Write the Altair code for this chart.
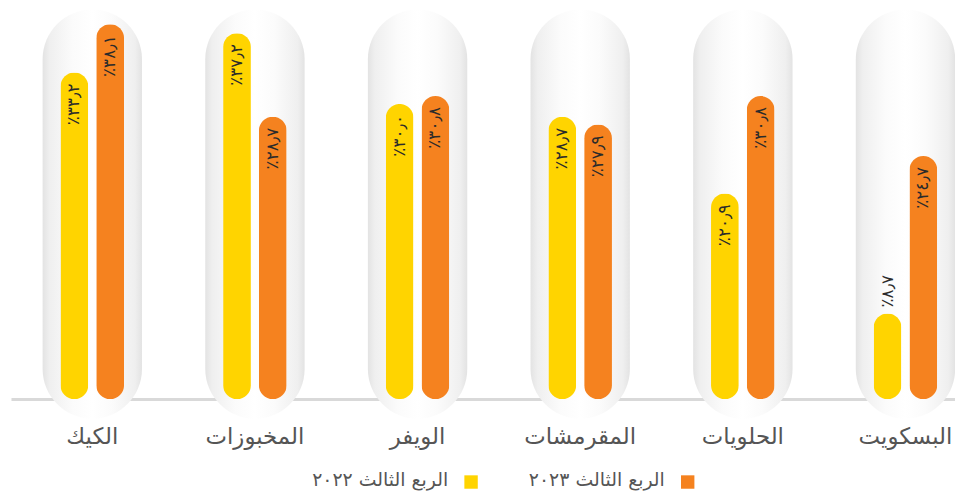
import altair as alt
import pandas as pd

# ---- data ----
categories = ["الكيك", "المخبوزات", "الويفر", "المقرمشات", "الحلويات", "البسكويت"]
series = ["الربع الثالث ٢٠٢٢", "الربع الثالث ٢٠٢٣"]
q3_2022 = [33.2, 37.2, 30.0, 28.7, 20.9, 8.7]
q3_2023 = [38.1, 28.7, 30.8, 27.9, 30.8, 24.7]
colors = ["#FFD400", "#F5821F"]

# capsule (background pill) extent, in value units
cap_top = 39.6
cap_bottom = -2.0
y_max = 39.6

AR = str.maketrans("0123456789.", "٠١٢٣٤٥٦٧٨٩٫")


def ar_label(v):
    return "٪" + f"{v:.1f}".translate(AR)


rows = []
for i, c in enumerate(categories):
    for s, vals in zip(series, [q3_2022, q3_2023]):
        rows.append({"cat": c, "series": s, "value": vals[i], "label": ar_label(vals[i])})
df = pd.DataFrame(rows)
caps = pd.DataFrame({"cat": categories, "top": [cap_top] * len(categories),
                     "bottom": [cap_bottom] * len(categories)})

FONT = "DejaVu Sans"

x_enc = alt.X(
    "cat:N",
    sort=categories,
    scale=alt.Scale(range=[3, 985], paddingInner=0, paddingOuter=0),
    axis=alt.Axis(
        title=None, ticks=False, labelAngle=0, labelFont=FONT, labelFontSize=23,
        labelColor="#555555", labelPadding=27, domainColor="#d9d9d9", domainWidth=3,
        labelBaseline="top",
    ),
)
y_scale = alt.Scale(domain=[0, y_max], nice=False, zero=True)

gradient = alt.Gradient(
    gradient="linear",
    stops=[
        alt.GradientStop(offset=0, color="#e3e3e3"),
        alt.GradientStop(offset=0.07, color="#efefef"),
        alt.GradientStop(offset=0.3, color="#fbfbfb"),
        alt.GradientStop(offset=0.5, color="#ffffff"),
        alt.GradientStop(offset=0.7, color="#fbfbfb"),
        alt.GradientStop(offset=0.93, color="#efefef"),
        alt.GradientStop(offset=1, color="#e3e3e3"),
    ],
    x1=0, x2=1, y1=0, y2=0,
)

capsules = alt.Chart(caps).mark_bar(size=100, cornerRadius=50, color=gradient).encode(
    x=x_enc,
    y=alt.Y("top:Q", scale=y_scale, axis=None),
    y2="bottom:Q",
)

xoff = alt.XOffset("series:N", sort=series,
                   scale=alt.Scale(range=[45.8, 117.8], paddingInner=0, paddingOuter=0))

bars = alt.Chart(df).mark_bar(size=28, cornerRadius=14).encode(
    x=x_enc,
    xOffset=xoff,
    y=alt.Y("value:Q", scale=y_scale, axis=None),
    color=alt.Color("series:N", scale=alt.Scale(domain=series, range=colors), legend=None),
)

labels_in = alt.Chart(df).transform_filter("datum.value >= 12").mark_text(
    angle=270, align="right", baseline="middle", yOffset=11, fontSize=17,
    font=FONT, color="#2b2b2b",
).encode(
    x=x_enc, xOffset=xoff,
    y=alt.Y("value:Q", scale=y_scale, axis=None),
    text="label:N",
)

labels_out = alt.Chart(df).transform_filter("datum.value < 12").mark_text(
    angle=270, align="left", baseline="middle", yOffset=-6, fontSize=17,
    font=FONT, color="#2b2b2b",
).encode(
    x=x_enc, xOffset=xoff,
    y=alt.Y("value:Q", scale=y_scale, axis=None),
    text="label:N",
)

# ---- custom right-to-left legend ----
leg_2023 = pd.DataFrame({"s": [series[1]]})
leg_2022 = pd.DataFrame({"s": [series[0]]})

sq23 = alt.Chart(leg_2023).mark_square(size=182, opacity=1).encode(
    x=alt.value(684), y=alt.value(475.5), color=alt.value(colors[1]))
tx23 = alt.Chart(leg_2023).mark_text(align="right", baseline="middle", fontSize=19,
                                     font=FONT, color="#555555").encode(
    x=alt.value(661), y=alt.value(474), text="s:N")
sq22 = alt.Chart(leg_2022).mark_square(size=182, opacity=1).encode(
    x=alt.value(466), y=alt.value(475.5), color=alt.value(colors[0]))
tx22 = alt.Chart(leg_2022).mark_text(align="right", baseline="middle", fontSize=19,
                                     font=FONT, color="#555555").encode(
    x=alt.value(443), y=alt.value(474), text="s:N")

chart = alt.layer(capsules, bars, labels_in, labels_out, sq23, tx23, sq22, tx22).properties(
    width=953, height=392,
    autosize=alt.AutoSizeParams(type="none"),
    padding={"left": 0, "top": 0, "right": 0, "bottom": 91},
    background="white",
).configure_view(stroke=None)

chart.save("out.html", embed_options={"renderer": "svg", "actions": False})
